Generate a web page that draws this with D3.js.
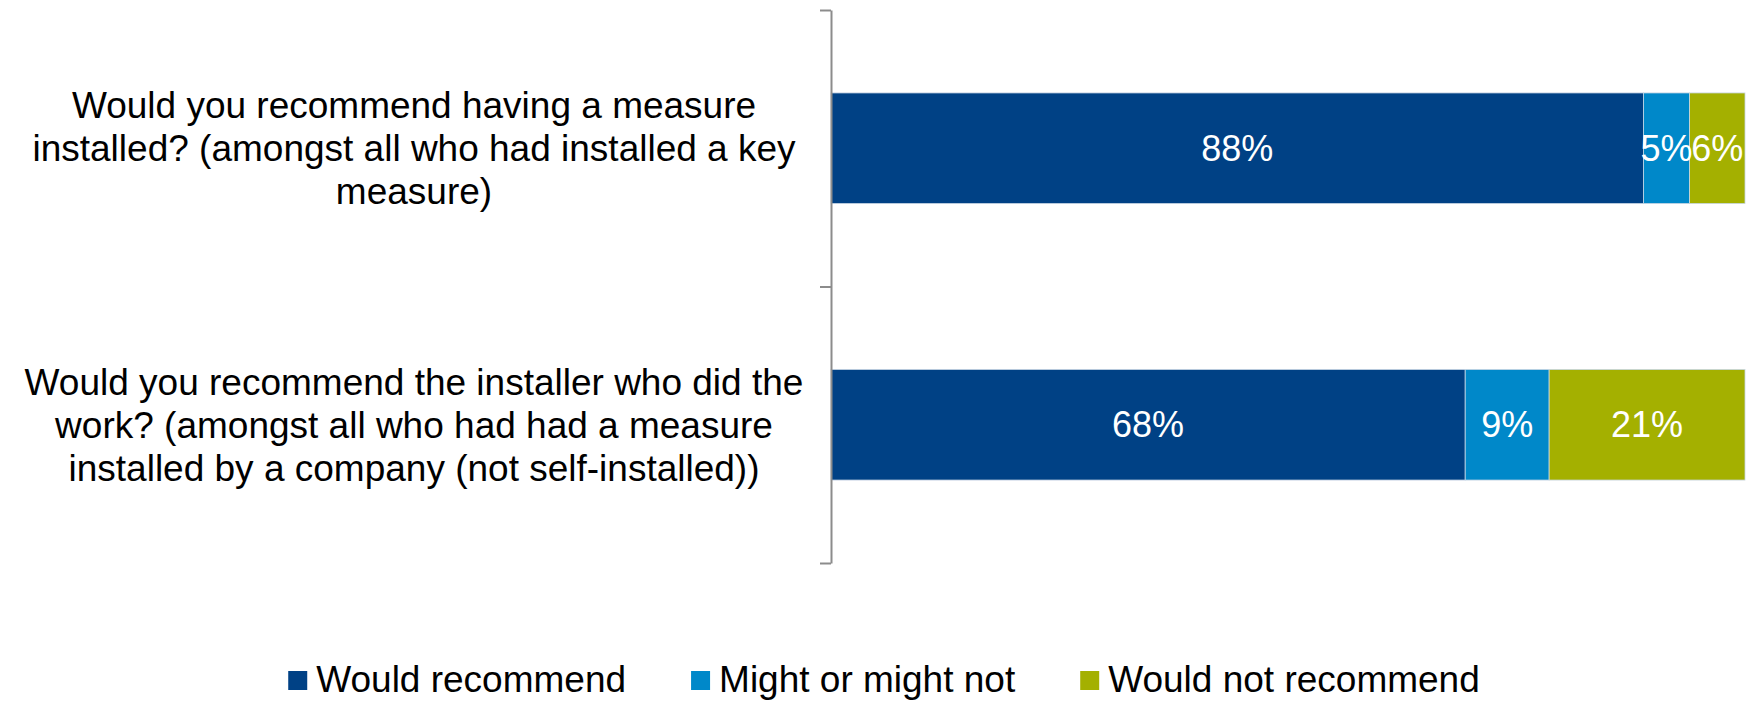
<!DOCTYPE html>
<html>
<head>
<meta charset="utf-8">
<script src="https://cdn.jsdelivr.net/npm/d3@7"></script>
<style>
  html, body { margin: 0; padding: 0; background: #fff; }
  svg { display: block; font-family: "Liberation Sans", Arial, sans-serif; }
</style>
</head>
<body>
<div class="chart"></div>
<script>
// data
const categories = [
  ['Would you recommend having a measure', 'installed? (amongst all who had installed a key', 'measure)'],
  ['Would you recommend the installer who did the', 'work? (amongst all who had had a measure', 'installed by a company (not self-installed))']
];
const seriesNames = ['Would recommend', 'Might or might not', 'Would not recommend'];
const wouldRecommend = [88, 68];
const mightOrMightNot = [5, 9];
const wouldNotRecommend = [6, 21];
const colors = ['#004185', '#0088c9', '#a4b000'];

const width = 1754, height = 701;
const margin = { top: 10, right: 9, bottom: 138, left: 831 };
const innerWidth = width - margin.left - margin.right;
const innerHeight = height - margin.top - margin.bottom;

const rows = categories.map((c, i) => {
  const vals = [wouldRecommend[i], mightOrMightNot[i], wouldNotRecommend[i]];
  const total = d3.sum(vals);
  let acc = 0;
  return {
    idx: i,
    label: c,
    segs: vals.map((v, k) => {
      const s = { key: seriesNames[k], k, value: v, x0: acc / total, x1: (acc + v) / total };
      acc += v;
      return s;
    })
  };
});

const svg = d3.select('.chart').append('svg')
  .attr('width', width)
  .attr('height', height);

const g = svg.append('g').attr('transform', `translate(${margin.left}, ${margin.top})`);

const x = d3.scaleLinear().domain([0, 1]).range([0, innerWidth]);
const y = d3.scaleBand()
  .domain(rows.map(d => d.idx))
  .range([0, innerHeight])
  .paddingInner(0.6)
  .paddingOuter(0.3);

// bars
const bar = g.selectAll('g.bar')
  .data(rows)
  .enter()
  .append('g')
  .attr('class', 'bar')
  .attr('transform', d => `translate(0, ${y(d.idx)})`);

bar.selectAll('rect')
  .data(d => d.segs)
  .enter()
  .append('rect')
  .attr('x', d => x(d.x0))
  .attr('width', d => x(d.x1) - x(d.x0))
  .attr('height', y.bandwidth())
  .attr('fill', d => colors[d.k])
  .attr('stroke', '#c9d6e4')
  .attr('stroke-width', 0.8);

bar.selectAll('text')
  .data(d => d.segs)
  .enter()
  .append('text')
  .attr('x', d => (x(d.x0) + x(d.x1)) / 2)
  .attr('y', y.bandwidth() / 2)
  .attr('dy', '0.35em')
  .attr('text-anchor', 'middle')
  .attr('fill', '#fff')
  .attr('font-size', 36)
  .text(d => d.value + '%');

// axis with ticks between categories
const yTicks = d3.scaleLinear().domain([0, rows.length]).range([0, innerHeight]);
const axis = g.append('g')
  .call(d3.axisLeft(yTicks).tickValues(d3.range(rows.length + 1)).tickFormat('').tickSize(11).tickSizeOuter(0));
axis.select('.domain').attr('stroke', '#8c8c8c').attr('stroke-width', 2);
axis.selectAll('.tick line').attr('stroke', '#8c8c8c').attr('stroke-width', 2);

// category labels, one text per line
const lineH = 43;
const labels = svg.append('g')
  .attr('font-size', 37)
  .attr('fill', '#000')
  .attr('text-anchor', 'middle');

rows.forEach(r => {
  const cy = margin.top + y(r.idx) + y.bandwidth() / 2;
  const y0 = cy - (r.label.length - 1) * lineH / 2;
  labels.selectAll(null)
    .data(r.label)
    .enter()
    .append('text')
    .attr('x', 414)
    .attr('y', (d, j) => y0 + j * lineH)
    .attr('dy', '0.35em')
    .text(d => d);
});

// legend
const legend = svg.append('g')
  .attr('font-size', 37);
const items = legend.selectAll('g')
  .data(seriesNames)
  .enter()
  .append('g');
items.append('rect')
  .attr('width', 19)
  .attr('height', 19)
  .attr('y', -8)
  .attr('fill', (d, i) => colors[i]);
items.append('text')
  .attr('x', 28)
  .attr('dy', '0.35em')
  .text(d => d);

let lx = 0;
const gap = 65;
items.each(function () {
  const w = 28 + this.querySelector('text').getComputedTextLength();
  d3.select(this).attr('transform', `translate(${lx}, 0)`);
  lx += w + gap;
});
const legendW = lx - gap;
legend.attr('transform', `translate(${884 - legendW / 2}, 679)`);
</script>
</body>
</html>
